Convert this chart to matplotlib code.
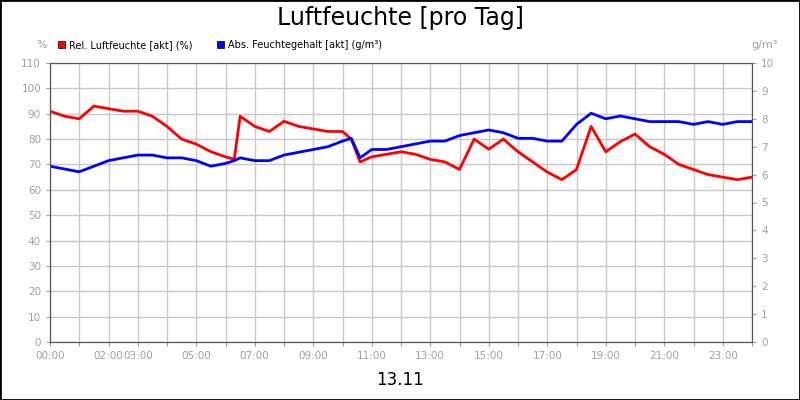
import matplotlib
matplotlib.use("Agg")
import matplotlib.pyplot as plt
from matplotlib.patches import Rectangle
import numpy as np

# stunden (dezimal)
stunden = [0, 0.5, 1, 1.5, 2, 2.5, 3, 3.5, 4, 4.5, 5, 5.5, 6, 6.3, 6.5, 7, 7.5, 8, 8.5, 9, 9.5,
           10, 10.3, 10.6, 11, 11.5, 12, 12.5, 13, 13.5, 14, 14.5, 15, 15.5, 16, 16.5, 17, 17.5,
           18, 18.5, 19, 19.5, 20, 20.5, 21, 21.5, 22, 22.5, 23, 23.5, 24]
rel_feuchte = [91, 89, 88, 93, 92, 91, 91, 89, 85, 80, 78, 75, 73, 72, 89, 85, 83, 87, 85, 84, 83,
               83, 80, 71, 73, 74, 75, 74, 72, 71, 68, 80, 76, 80, 75, 71, 67, 64, 68, 85, 75,
               79, 82, 77, 74, 70, 68, 66, 65, 64, 65]
abs_feuchte = [6.3, 6.2, 6.1, 6.3, 6.5, 6.6, 6.7, 6.7, 6.6, 6.6, 6.5, 6.3, 6.4, 6.5, 6.6, 6.5,
               6.5, 6.7, 6.8, 6.9, 7.0, 7.2, 7.3, 6.6, 6.9, 6.9, 7.0, 7.1, 7.2, 7.2, 7.4, 7.5,
               7.6, 7.5, 7.3, 7.3, 7.2, 7.2, 7.8, 8.2, 8.0, 8.1, 8.0, 7.9, 7.9, 7.9, 7.8, 7.9,
               7.8, 7.9, 7.9]
tick_pos = [0, 2, 3, 5, 7, 9, 11, 13, 15, 17, 19, 21, 23]
tick_labels = ["00:00", "02:00", "03:00", "05:00", "07:00", "09:00", "11:00", "13:00",
               "15:00", "17:00", "19:00", "21:00", "23:00"]

fig = plt.figure(figsize=(8, 4), dpi=100)
fig.patches.append(Rectangle((0, 0), 1, 1, transform=fig.transFigure, fill=False,
                             edgecolor="black", linewidth=2))
ax = fig.add_axes([50 / 800, 58 / 400, 702 / 800, 279 / 400])
ax2 = ax.twinx()

ax.plot(stunden, rel_feuchte, color="red", linewidth=2)
ax2.plot(stunden, abs_feuchte, color="blue", linewidth=2)

ax.set_xlim(0, 24)
ax.set_ylim(0, 110)
ax2.set_ylim(0, 10)
ax.set_yticks(np.arange(0, 111, 10))
ax2.set_yticks(np.arange(0, 11, 1))
ax.set_xticks(range(0, 25))
ax.set_xticklabels([tick_labels[tick_pos.index(h)] if h in tick_pos else "" for h in range(25)])
ax.grid(True, color="#c8c8c8", linewidth=1)
for a in (ax, ax2):
    a.tick_params(colors="#a0a0a0", labelsize=7.5, length=3)
    for s in a.spines.values():
        s.set_color("#555555")

fig.text(0.5, 0.955, "Luftfeuchte [pro Tag]", ha="center", va="center", fontsize=17)
fig.text(0.5, 0.05, "13.11", ha="center", va="center", fontsize=12)
fig.text(42 / 800, 352 / 400, "%", ha="center", color="#a0a0a0", fontsize=8)
fig.text(765 / 800, 352 / 400, "g/m³", ha="center", color="#a0a0a0", fontsize=8)

fig.patches.append(Rectangle((58 / 800, 352 / 400), 7 / 800, 7 / 400, transform=fig.transFigure,
                             facecolor="red", edgecolor="black", linewidth=0.5))
fig.text(69 / 800, 355 / 400, "Rel. Luftfeuchte [akt] (%)", va="center", fontsize=7)
fig.patches.append(Rectangle((217 / 800, 352 / 400), 7 / 800, 7 / 400, transform=fig.transFigure,
                             facecolor="blue", edgecolor="black", linewidth=0.5))
fig.text(228 / 800, 355 / 400, "Abs. Feuchtegehalt [akt] (g/m³)", va="center", fontsize=7)

fig.savefig("out.png", dpi=100)
